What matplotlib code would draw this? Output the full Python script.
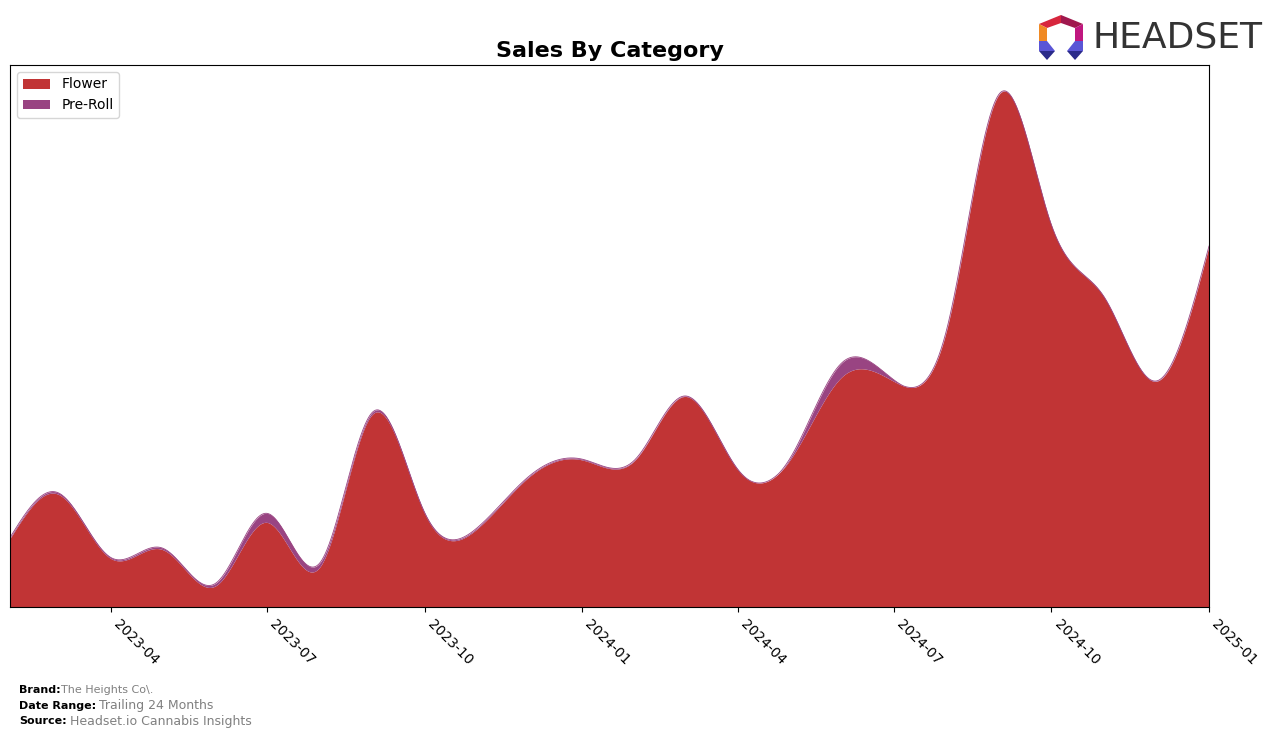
import numpy as np
import pandas as pd
import matplotlib
matplotlib.use("Agg")
import matplotlib.pyplot as plt
import matplotlib.dates as mdates
from matplotlib.patches import Polygon

# Monthly sales (USD)
months = pd.date_range("2023-02-01", "2025-01-01", freq="MS")
flower = [68, 112, 48, 57, 21, 84, 40, 192, 93, 78, 129, 146,
          146, 209, 136, 145, 229, 224, 276, 510, 379, 307, 224, 358]
pre_roll = [1, 1.5, 1, 1.5, 2.5, 9, 4, 2, 1, 1, 0.8, 0.8,
            0.5, 0.5, 0.5, 1.5, 14, 1.5, 0.5, 0.3, 0.3, 0.3, 0.3, 0.3]
flower = np.array(flower) * 1000.0
pre_roll = np.array(pre_roll) * 1000.0

tick_dates = pd.date_range("2023-04-01", "2025-01-01", freq="QS")


def spline(x, y, xs):
    # natural cubic spline
    n = len(x)
    h = np.diff(x)
    A = np.zeros((n, n))
    r = np.zeros(n)
    A[0, 0] = A[-1, -1] = 1
    for i in range(1, n - 1):
        A[i, i - 1] = h[i - 1]
        A[i, i] = 2 * (h[i - 1] + h[i])
        A[i, i + 1] = h[i]
        r[i] = 3 * ((y[i + 1] - y[i]) / h[i] - (y[i] - y[i - 1]) / h[i - 1])
    c = np.linalg.solve(A, r)
    b = (y[1:] - y[:-1]) / h - h * (2 * c[:-1] + c[1:]) / 3
    d = (c[1:] - c[:-1]) / (3 * h)
    idx = np.clip(np.searchsorted(x, xs) - 1, 0, n - 2)
    dx = xs - x[idx]
    return y[idx] + b[idx] * dx + c[idx] * dx ** 2 + d[idx] * dx ** 3


x = mdates.date2num(months)
xs = np.linspace(x[0], x[-1], 1500)
fl_s = np.clip(spline(x, flower, xs), 0, None)
pr_s = np.clip(spline(x, pre_roll, xs), 0, None)

fig = plt.figure(figsize=(12.76, 7.38), dpi=100)
W, H = 1276, 738
ax = fig.add_axes([10 / W, 1 - 607 / H, 1199 / W, 542 / H])

ax.fill_between(xs, 0, fl_s, color="#c13435", label="Flower", lw=0)
ax.fill_between(xs, fl_s, fl_s + pr_s, color="#994482", label="Pre-Roll", lw=0)
ax.plot(xs, fl_s + pr_s, color="#994482", lw=0.6)

ax.set_xlim(x[0], x[-1])
ax.set_ylim(0, (fl_s + pr_s).max() * 1.05)
ax.set_yticks([])
ax.set_xticks(mdates.date2num(tick_dates))
ax.xaxis.set_major_formatter(mdates.DateFormatter("%Y-%m"))
plt.setp(ax.get_xticklabels(), rotation=-45, ha="left", fontsize=10)

ax.set_title("Sales By Category", fontsize=16, fontweight="bold", pad=6)
ax.legend(loc="upper left", fontsize=10, handlelength=2, borderaxespad=0.5)

# footer
fig.text(19 / W, 1 - 690 / H, "Brand:", fontsize=8, fontweight="bold", va="center")
fig.text(61 / W, 1 - 690 / H, "The Heights Co\\.", fontsize=8, color="gray", va="center")
fig.text(19 / W, 1 - 706 / H, "Date Range:", fontsize=8, fontweight="bold", va="center")
fig.text(99 / W, 1 - 706 / H, "Trailing 24 Months", fontsize=9, color="gray", va="center")
fig.text(19 / W, 1 - 721 / H, "Source:", fontsize=8, fontweight="bold", va="center")
fig.text(70 / W, 1 - 721 / H, "Headset.io Cannabis Insights", fontsize=9, color="gray", va="center")

# logo
fig.text(1262 / W, 1 - 38 / H, "HEADSET", fontsize=26, color="#333333",
         va="center", ha="right")
lax = fig.add_axes([1036 / W, 1 - 62 / H, 50 / W, 48 / H])
lax.set_xlim(0, 50)
lax.set_ylim(48, 0)
lax.axis("off")
pieces = [
    ([(3, 10), (25, 1), (25, 9), (11, 14)], "#d7263d"),
    ([(25, 1), (47, 10), (39, 14), (25, 9)], "#a0184e"),
    ([(3, 10), (11, 14), (11, 27), (3, 27)], "#f08a24"),
    ([(47, 10), (39, 14), (39, 27), (47, 27)], "#c0177f"),
    ([(3, 27), (11, 27), (19, 37), (3, 37)], "#5a55d6"),
    ([(47, 27), (39, 27), (31, 37), (47, 37)], "#5a55d6"),
    ([(3, 37), (19, 37), (11, 46)], "#2a2a8a"),
    ([(31, 37), (47, 37), (39, 46)], "#2a2a8a"),
]
for pts, col in pieces:
    lax.add_patch(Polygon(pts, closed=True, color=col, lw=0))

fig.savefig("out.png", dpi=100)
